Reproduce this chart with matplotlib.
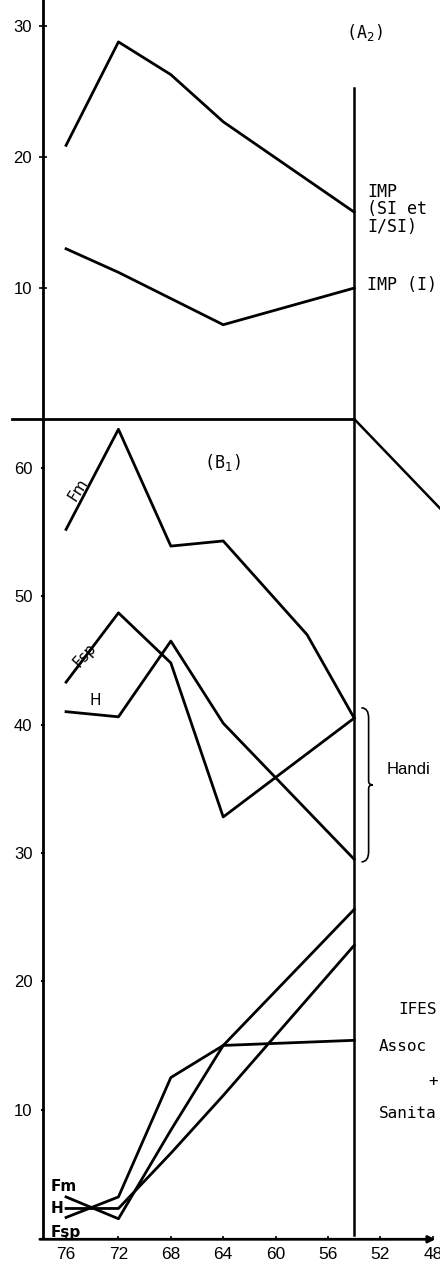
import matplotlib
matplotlib.use("Agg")
import matplotlib.pyplot as plt
from matplotlib.path import Path
from matplotlib.patches import PathPatch

# years (19xx)
years = [76, 72, 68, 64, 54]
year_ticks = [76, 72, 68, 64, 60, 56, 52, 48]

# (A2) upper panel
imp_si = [20.9, 28.8, 26.3, 22.7, 15.8]
imp_i_years = [76, 72, 64, 54]
imp_i = [13.0, 11.2, 7.2, 10.0]

# (B1) lower panel, "Handicapes" group
fm_years = [76, 72, 68, 64, 57.6, 54]
fm = [55.2, 63.0, 53.9, 54.3, 47.0, 40.5]
fsp = [43.3, 48.7, 44.8, 32.8, 40.5]
h = [41.0, 40.6, 46.5, 40.1, 29.5]

# (B1) lower panel, "IFES / Associations + Sanitaires" group
fm_low = [3.2, 1.5, 8.4, 15.0, 25.6]
h_low = [2.3, 2.3, 6.6, 11.1, 22.8]
fsp_low = [1.6, 3.2, 12.5, 15.0, 15.4]

ref_year = 54
top_max, bot_max = 32.0, 63.8
link_years = [ref_year, 46]
link_vals = [bot_max, 55.3]

W, H = 440, 1268
fig = plt.figure(figsize=(W / 100, H / 100), dpi=100)
x0 = 43 / W
ax_top = fig.add_axes([x0, 1 - 419 / H, 1 - x0, 419 / H])
ax_bot = fig.add_axes([x0, (H - 1238) / H, 1 - x0, (1238 - 419) / H])

xlim = (77.76, 47.45)
lw = 2.0
mono = "DejaVu Sans Mono"

for ax in (ax_top, ax_bot):
    ax.set_xlim(*xlim)
    for s in ("top", "right", "bottom"):
        ax.spines[s].set_visible(False)
    ax.spines["left"].set_linewidth(2.0)
    ax.patch.set_alpha(0)

ax_top.set_ylim(0, top_max)
ax_bot.set_ylim(0, bot_max)

# upper panel
ax_top.plot(years, imp_si, color="black", lw=lw)
ax_top.plot(imp_i_years, imp_i, color="black", lw=lw)
ax_top.plot([ref_year, ref_year], [0, 25.3], color="black", lw=1.8)
ax_top.set_yticks([10, 20, 30])
ax_top.set_yticklabels(["10", "20", "30"], fontsize=12, family="Liberation Sans")
ax_top.tick_params(axis="y", direction="inout", length=6, width=1.2, pad=5)
ax_top.set_xticks([])
ax_top.text(53.2, 29.5, "(A$_2$)", fontsize=12, family=mono, ha="center", va="center")
ax_top.text(53.0, 16.0, "IMP\n(SI et\nI/SI)", fontsize=12, family=mono,
            ha="left", va="center", linespacing=0.95)
ax_top.text(53.0, 10.2, "IMP (I)", fontsize=12, family=mono, ha="left", va="center")

# lower panel
ax_bot.plot(fm_years, fm, color="black", lw=lw)
ax_bot.plot(years, fsp, color="black", lw=lw)
ax_bot.plot(years, h, color="black", lw=lw)
ax_bot.plot(years, fm_low, color="black", lw=lw)
ax_bot.plot(years, h_low, color="black", lw=lw)
ax_bot.plot(years, fsp_low, color="black", lw=lw)
ax_bot.plot([ref_year, ref_year], [0.2, bot_max], color="black", lw=1.8)

# separator between panels and the link going off to the right
ax_bot.plot([80.1, ref_year], [bot_max, bot_max], color="black", lw=2.0, clip_on=False)
ax_bot.plot(link_years, link_vals, color="black", lw=1.8, clip_on=False)

ax_bot.set_yticks([10, 20, 30, 40, 50, 60])
ax_bot.set_yticklabels(["10", "20", "30", "40", "50", "60"], fontsize=12,
                       family="Liberation Sans")
ax_bot.tick_params(axis="y", direction="inout", length=3, width=1.5, pad=6)
ax_bot.set_xticks(year_ticks)
ax_bot.set_xticklabels([str(y) for y in year_ticks], fontsize=12.5,
                       family="Liberation Sans")
ax_bot.tick_params(axis="x", direction="inout", length=3, width=1.2, pad=5)

# x axis with arrow
ax_bot.annotate("", xy=(47.8, -0.1), xytext=(78.0, -0.1),
                xycoords="data", textcoords="data", annotation_clip=False,
                arrowprops=dict(arrowstyle="-|>", color="black", lw=2.0,
                                mutation_scale=10, shrinkA=0, shrinkB=0))

ax_bot.text(64.1, 60.4, "(B$_1$)", fontsize=12, family=mono, ha="center", va="center")
ax_bot.text(75.1, 58.3, "Fm", fontsize=11, ha="center", va="center", rotation=57)
ax_bot.text(74.6, 45.4, "Fsp", fontsize=11, ha="center", va="center", rotation=48)
ax_bot.text(73.8, 41.9, "H", fontsize=11, ha="center", va="center")

ax_bot.text(51.5, 36.5, "Handi", fontsize=12, family="Liberation Sans", ha="left",
            va="center")
ax_bot.text(50.6, 17.8, "IFES", fontsize=11.5, family=mono, ha="left", va="center")
ax_bot.text(52.1, 14.9, "Assoc", fontsize=11.5, family=mono, ha="left", va="center")
ax_bot.text(48.3, 12.2, "+", fontsize=11.5, family=mono, ha="left", va="center")
ax_bot.text(52.1, 9.7, "Sanita", fontsize=11.5, family=mono, ha="left", va="center")

ax_bot.text(77.2, 4.0, "Fm", fontsize=11, weight="bold", ha="left", va="center")
ax_bot.text(77.2, 2.3, "H", fontsize=11, weight="bold", ha="left", va="center")
ax_bot.text(77.2, 0.4, "Fsp", fontsize=11, weight="bold", ha="left", va="center")

# brace for the "Handi" group
bx, by0, by1, bw = 52.9, 29.3, 41.3, 0.55
bm = (by0 + by1) / 2
verts = [(bx + bw, by1), (bx, by1), (bx, by1 - 0.8),
         (bx, bm + 0.3), (bx, bm), (bx - bw * 0.6, bm),
         (bx, bm), (bx, bm - 0.3),
         (bx, by0 + 0.8), (bx, by0), (bx + bw, by0)]
codes = [Path.MOVETO, Path.CURVE3, Path.CURVE3,
         Path.LINETO, Path.CURVE3, Path.CURVE3,
         Path.CURVE3, Path.CURVE3,
         Path.LINETO, Path.CURVE3, Path.CURVE3]
ax_bot.add_patch(PathPatch(Path(verts, codes), fill=False, lw=1.2,
                           edgecolor="black", clip_on=False))

fig.savefig("out.png", dpi=100)
